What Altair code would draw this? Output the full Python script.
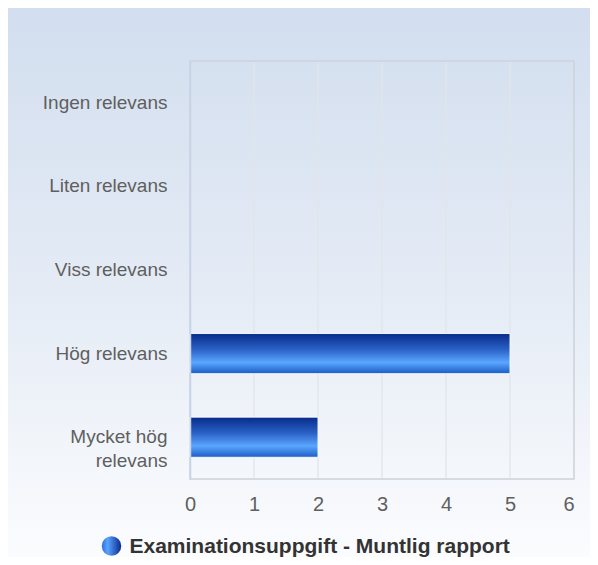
import altair as alt
import pandas as pd

categories = ["Ingen relevans", "Liten relevans", "Viss relevans", "Hög relevans", "Mycket hög relevans"]
values = [0, 0, 0, 5, 2]
series_name = "Examinationsuppgift - Muntlig rapport"
x_ticks = [0, 1, 2, 3, 4, 5, 6]

df = pd.DataFrame({"kategori": categories, "antal": values})
W, H = 384, 418
FONT = "Liberation Sans"

bg_grad = alt.Gradient(
    gradient="linear",
    stops=[alt.GradientStop(color="#d2deef", offset=0),
           alt.GradientStop(color="#e4ebf5", offset=0.5),
           alt.GradientStop(color="#fbfcfe", offset=1)],
    x1=0, x2=0, y1=0, y2=1,
)
bar_grad = alt.Gradient(
    gradient="linear",
    stops=[alt.GradientStop(color="#072a8a", offset=0),
           alt.GradientStop(color="#2a62c6", offset=0.4),
           alt.GradientStop(color="#5aa6ff", offset=0.72),
           alt.GradientStop(color="#1a5cc6", offset=1)],
    x1=0, x2=0, y1=0, y2=1,
)
dot_grad = alt.Gradient(
    gradient="linear",
    stops=[alt.GradientStop(color="#2e70dc", offset=0),
           alt.GradientStop(color="#5aa2ff", offset=0.3),
           alt.GradientStop(color="#0a2a8c", offset=1)],
    x1=0, x2=1, y1=0, y2=0,
)

xscale = alt.Scale(domain=[0, 6], nice=False)
xaxis = alt.Axis(values=x_ticks, title=None, grid=False, zindex=1,
                 ticks=False, domain=False, labelFontSize=20, labelColor="#5f5f5f",
                 labelPadding=15, labelFont=FONT, format="d",
                 labelAlign={"condition": {"test": "datum.value == 6", "value": "right"}, "value": "center"})

bg = alt.Chart(pd.DataFrame({"d": [0]})).mark_rect(fill=bg_grad).encode(
    x=alt.value(-182), x2=alt.value(W + 20),
    y=alt.value(-53), y2=alt.value(H + 80),
)

grid = alt.Chart(pd.DataFrame({"t": x_ticks[1:-1]})).mark_rule(color="#e2e5ea", strokeWidth=1.3).encode(
    x=alt.X("t:Q", scale=xscale, axis=xaxis),
)

bars = alt.Chart(df).mark_bar(fill=bar_grad, stroke="#ffffff", strokeWidth=1).encode(
    x=alt.X("antal:Q", scale=xscale, axis=xaxis),
    y=alt.Y("kategori:N", sort=categories,
            scale=alt.Scale(paddingInner=0.52, paddingOuter=0.26),
            axis=alt.Axis(title=None, ticks=False, grid=False, domain=True, domainColor="#c6d3e8",
                          domainWidth=1.5, zindex=1,
                          labelFontSize=19, labelColor="#5f5f5f", labelPadding=23, labelFont=FONT,
                          labelLineHeight=24, labelLimit=200,
                          labelExpr="datum.label == 'Mycket hög relevans' ? ['Mycket hög', 'relevans'] : datum.label")),
    strokeOpacity=alt.condition(alt.datum.antal > 0, alt.value(0.9), alt.value(0)),
)

frame = alt.Chart(pd.DataFrame({"d": [0]})).mark_rect(fillOpacity=0, stroke="#cdd2d9", strokeWidth=1.5).encode(
    x=alt.value(0), x2=alt.value(W), y=alt.value(0), y2=alt.value(H),
)

leg_df = pd.DataFrame({"serie": [series_name]})
leg_dot = alt.Chart(leg_df).mark_point(shape="circle", filled=True, fill=dot_grad, size=380, opacity=1).encode(
    x=alt.value(-78.5), y=alt.value(485),
)
leg_txt = alt.Chart(leg_df).mark_text(align="left", baseline="middle", fontSize=21, fontWeight="bold",
                                      font=FONT, color="#333333").encode(
    x=alt.value(-60.5), y=alt.value(486), text="serie:N",
)

chart = alt.layer(bg, grid, frame, bars, leg_dot, leg_txt).properties(
    width=W, height=H,
    autosize=alt.AutoSizeParams(type="none"),
    padding={"left": 182, "top": 53, "right": 16, "bottom": 78},
    background="#ffffff",
).configure_view(stroke=None).configure_axis(labelFont=FONT)

chart.save("out.html", embed_options={"renderer": "svg", "actions": False})
